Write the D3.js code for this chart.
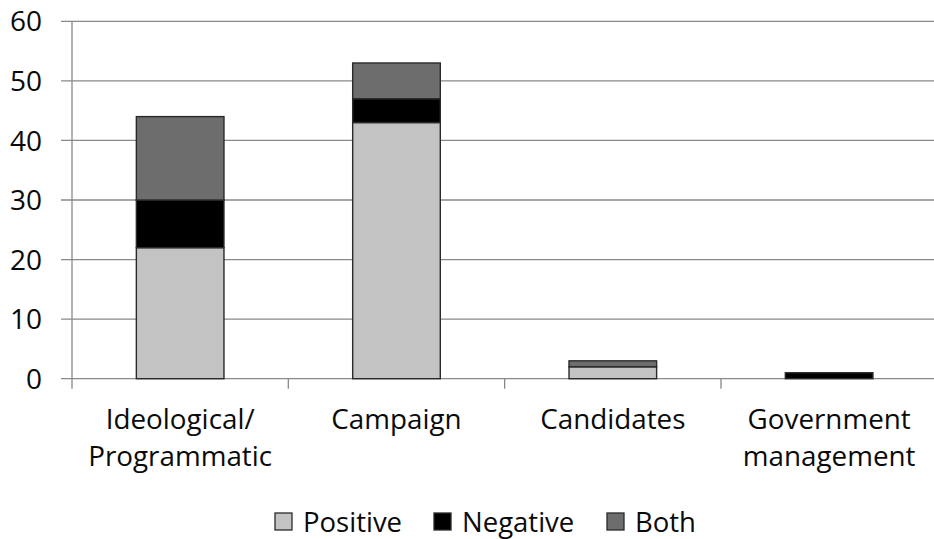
<!DOCTYPE html>
<html><head><meta charset="utf-8">
<script src="https://cdn.jsdelivr.net/npm/d3@7"></script>
<style>body{margin:0;background:#fff;} svg{display:block;font-family:"Open Sans",sans-serif;}</style>
</head><body>
<script>
const categories = [["Ideological/","Programmatic"],["Campaign"],["Candidates"],["Government","management"]];
const seriesNames = ["Positive","Negative","Both"];
const positive = [22, 43, 2, 0];
const negative = [8, 4, 0, 1];
const both = [14, 6, 1, 0];
const yTicks = [0,10,20,30,40,50,60];
const colors = ["#c3c3c3","#000000","#6d6d6d"];

const W = 934, H = 539;
const svg = d3.select("body").append("svg").attr("width", W).attr("height", H);
const x0 = 72, x1 = 937.3, yTop = 21.3, yBot = 378.7;
const keys = categories.map((c,i)=>i);
const x = d3.scaleBand().domain(keys).range([x0, x1]).paddingInner(0).paddingOuter(0);
const y = d3.scaleLinear().domain([0,60]).range([yBot, yTop]);

// gridlines
svg.append("g").selectAll("line").data(yTicks).join("line")
  .attr("x1", 61).attr("x2", W).attr("y1", d=>y(d)).attr("y2", d=>y(d))
  .attr("stroke", "#898989").attr("stroke-width", 1.3);
// y axis line
svg.append("line").attr("x1", x0).attr("x2", x0).attr("y1", yTop).attr("y2", yBot+10)
  .attr("stroke", "#898989").attr("stroke-width", 1.3);
// y labels
svg.append("g").selectAll("text").data(yTicks).join("text")
  .attr("x", 42).attr("y", d=>y(d)).attr("dy", "0.36em").attr("text-anchor","end")
  .attr("font-size", 28).attr("fill","#0a0a0a").text(d=>d);
// category ticks
const bounds = keys.map(k=>x(k)).concat([x1]);
svg.append("g").selectAll("line").data(bounds.slice(1)).join("line")
  .attr("x1", d=>d).attr("x2", d=>d).attr("y1", yBot).attr("y2", yBot+10)
  .attr("stroke", "#898989").attr("stroke-width", 1.3);

// stacked bars
const table = keys.map(i=>({i, Positive: positive[i], Negative: negative[i], Both: both[i]}));
const stack = d3.stack().keys(seriesNames)(table);
const bw = x.bandwidth()*0.405;
const g = svg.append("g");
stack.forEach((layer, li)=>{
  g.selectAll(null).data(layer.filter(d=>d[1]-d[0]>0)).join("rect")
    .attr("x", d=>x(d.data.i)+x.bandwidth()/2-bw/2)
    .attr("width", bw)
    .attr("y", d=>y(d[1]))
    .attr("height", d=>y(d[0])-y(d[1]))
    .attr("fill", colors[li]).attr("stroke","#2a2a2a").attr("stroke-width",1.4);
});

// category labels
const lab = svg.append("g");
categories.forEach((lines,i)=>{
  const t = lab.append("text").attr("text-anchor","middle").attr("font-size",27.8).attr("fill","#0a0a0a");
  lines.forEach((s,j)=>{
    t.append("tspan").attr("x", x(i)+x.bandwidth()/2).attr("y", 429+j*37).text(s);
  });
});

// legend
const legX = [275, 434, 607];
const leg = svg.append("g");
seriesNames.forEach((n,i)=>{
  leg.append("rect").attr("x", legX[i]).attr("y", 513).attr("width",17).attr("height",17)
    .attr("fill", colors[i]).attr("stroke","#2a2a2a").attr("stroke-width",1.3);
  leg.append("text").attr("x", legX[i]+28).attr("y", 522).attr("dy","0.36em")
    .attr("font-size",27.5).attr("fill","#0a0a0a").text(n);
});
</script>
</body></html>
